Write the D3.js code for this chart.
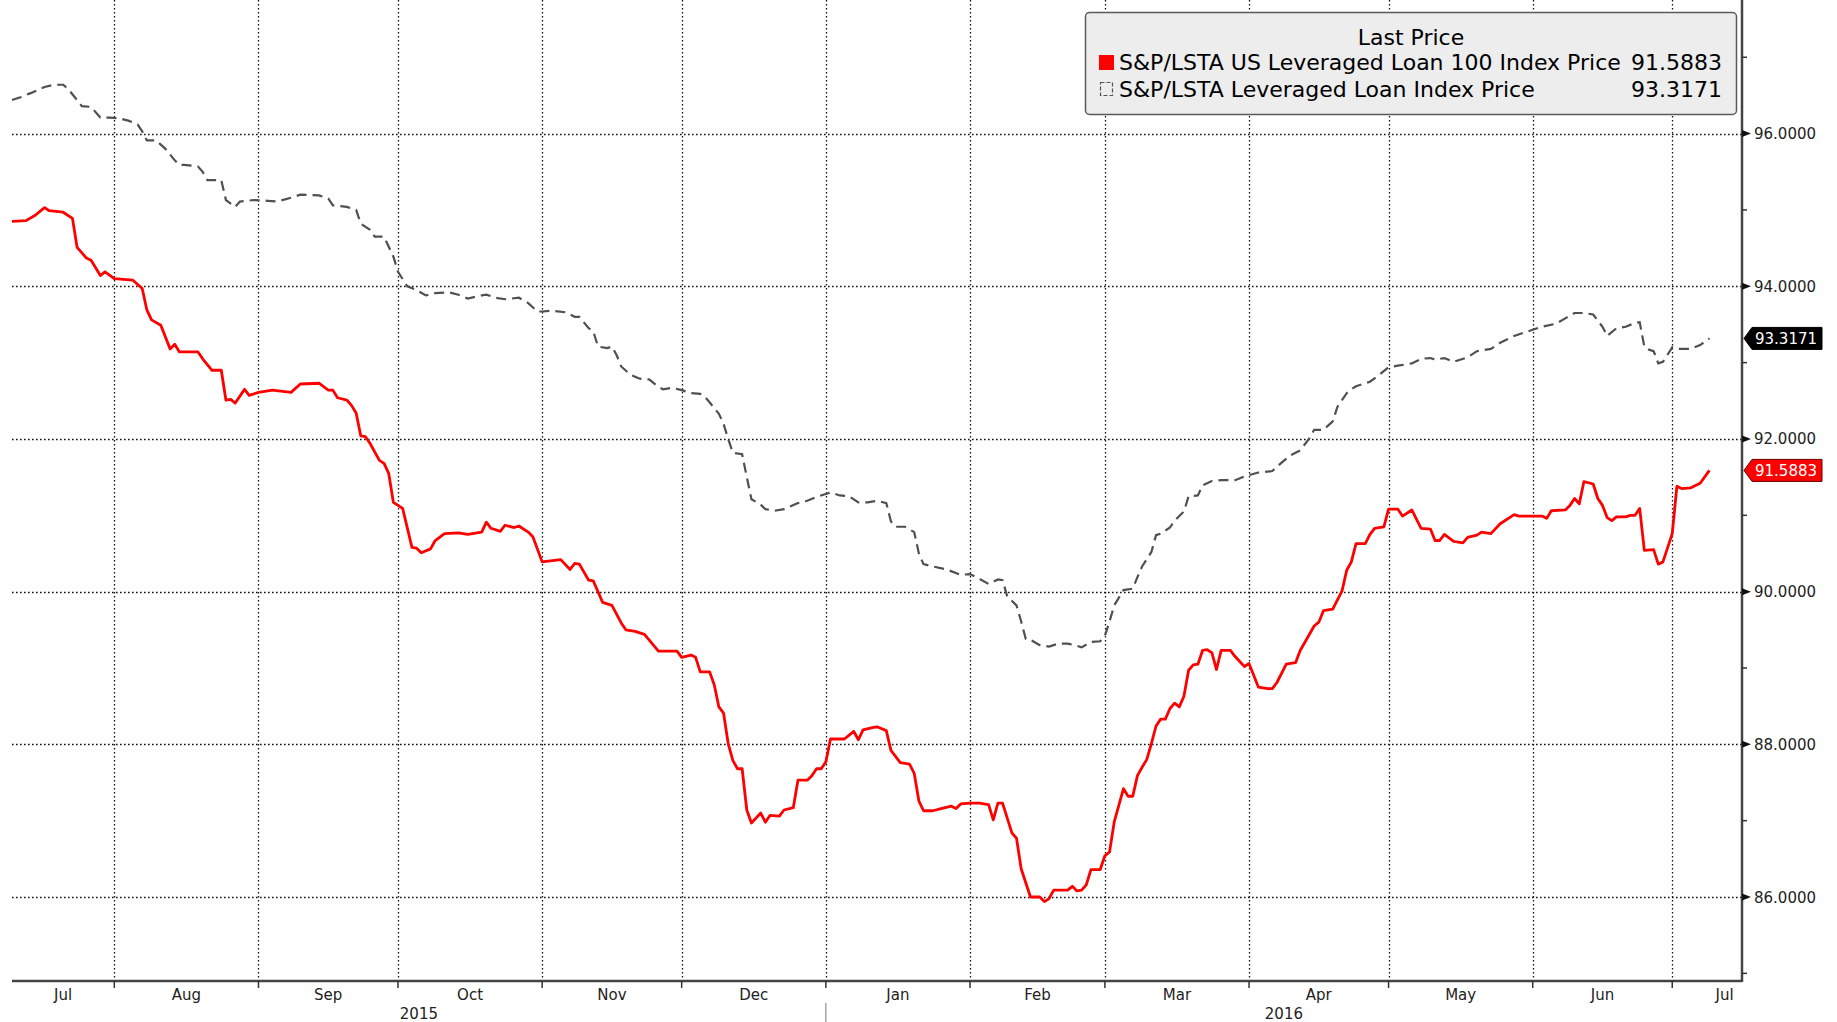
<!DOCTYPE html>
<html>
<head>
<meta charset="utf-8">
<script src="https://cdn.jsdelivr.net/npm/d3@7"></script>
<style>
body { margin: 0; background: #fff; }
svg { display: block; font-family: "DejaVu Sans", Verdana, sans-serif; }
</style>
</head>
<body>
<div id="chart"></div>
<script>
// values, one entry per point (roughly every 1-3 days)
var loan100Dates = [
"2015-07-10","2015-07-13","2015-07-15","2015-07-17","2015-07-18","2015-07-21","2015-07-23","2015-07-24","2015-07-26","2015-07-27","2015-07-29","2015-07-30",
"2015-08-01","2015-08-05","2015-08-07","2015-08-08","2015-08-09","2015-08-11","2015-08-13","2015-08-14","2015-08-15","2015-08-19","2015-08-20","2015-08-22","2015-08-24","2015-08-25","2015-08-26","2015-08-27","2015-08-29","2015-08-30",
"2015-09-01","2015-09-04","2015-09-08","2015-09-10","2015-09-14","2015-09-16","2015-09-17","2015-09-18","2015-09-20","2015-09-21","2015-09-22","2015-09-23","2015-09-24","2015-09-25","2015-09-27","2015-09-28","2015-09-29","2015-09-30",
"2015-10-02","2015-10-04","2015-10-05","2015-10-06","2015-10-08","2015-10-09","2015-10-11","2015-10-14","2015-10-16","2015-10-19","2015-10-20","2015-10-21","2015-10-23","2015-10-24","2015-10-26","2015-10-27","2015-10-29","2015-10-30",
"2015-11-01","2015-11-05","2015-11-07","2015-11-08","2015-11-09","2015-11-11","2015-11-12","2015-11-14","2015-11-16","2015-11-18","2015-11-19","2015-11-21","2015-11-23","2015-11-26","2015-11-30",
"2015-12-01","2015-12-03","2015-12-04","2015-12-05","2015-12-07","2015-12-08","2015-12-09","2015-12-10","2015-12-11","2015-12-12","2015-12-13","2015-12-14","2015-12-15","2015-12-16","2015-12-18","2015-12-19","2015-12-20","2015-12-22","2015-12-23","2015-12-25","2015-12-26","2015-12-28","2015-12-29","2015-12-30","2015-12-31",
"2016-01-01","2016-01-02","2016-01-05","2016-01-07","2016-01-08","2016-01-09","2016-01-11","2016-01-12","2016-01-14","2016-01-15","2016-01-17","2016-01-19","2016-01-20","2016-01-21","2016-01-22","2016-01-24","2016-01-26","2016-01-28","2016-01-29","2016-01-30",
"2016-02-01","2016-02-03","2016-02-05","2016-02-06","2016-02-07","2016-02-08","2016-02-10","2016-02-11","2016-02-12","2016-02-14","2016-02-16","2016-02-17","2016-02-18","2016-02-19","2016-02-22","2016-02-23","2016-02-24","2016-02-25","2016-02-26","2016-02-27","2016-02-29",
"2016-03-01","2016-03-02","2016-03-03","2016-03-05","2016-03-06","2016-03-07","2016-03-08","2016-03-09","2016-03-10","2016-03-11","2016-03-12","2016-03-13","2016-03-14","2016-03-15","2016-03-16","2016-03-17","2016-03-18","2016-03-19","2016-03-20","2016-03-21","2016-03-22","2016-03-23","2016-03-24","2016-03-25","2016-03-26","2016-03-28","2016-03-29","2016-03-31",
"2016-04-01","2016-04-03","2016-04-05","2016-04-06","2016-04-07","2016-04-09","2016-04-11","2016-04-12","2016-04-15","2016-04-16","2016-04-17","2016-04-19","2016-04-21","2016-04-22","2016-04-23","2016-04-24","2016-04-26","2016-04-27","2016-04-28","2016-04-30",
"2016-05-01","2016-05-03","2016-05-04","2016-05-06","2016-05-08","2016-05-10","2016-05-11","2016-05-12","2016-05-13","2016-05-15","2016-05-17","2016-05-18","2016-05-20","2016-05-21","2016-05-23","2016-05-25","2016-05-28","2016-05-29",
"2016-06-03","2016-06-04","2016-06-05","2016-06-08","2016-06-09","2016-06-10","2016-06-11","2016-06-12","2016-06-14","2016-06-15","2016-06-16","2016-06-17","2016-06-18","2016-06-19","2016-06-21","2016-06-22","2016-06-23","2016-06-24","2016-06-25","2016-06-27","2016-06-28","2016-06-29",
"2016-07-01","2016-07-02","2016-07-03","2016-07-05","2016-07-07","2016-07-09"
];
var loan100Values = [
94.85,94.86,94.93,95.03,94.99,94.97,94.89,94.51,94.37,94.34,94.14,94.19,
94.10,94.08,93.97,93.69,93.56,93.49,93.18,93.24,93.14,93.14,93.05,92.90,92.90,92.51,92.52,92.47,92.65,92.57,
92.61,92.64,92.61,92.72,92.73,92.64,92.64,92.54,92.51,92.44,92.34,92.04,92.03,91.94,91.72,91.68,91.55,91.17,
91.09,90.58,90.57,90.51,90.56,90.67,90.76,90.77,90.75,90.78,90.91,90.83,90.79,90.87,90.84,90.86,90.78,90.72,
90.39,90.42,90.29,90.37,90.36,90.15,90.14,89.86,89.82,89.59,89.50,89.48,89.44,89.22,89.22,
89.14,89.17,89.14,88.95,88.95,88.78,88.49,88.41,88.01,87.79,87.68,87.68,87.14,86.97,87.10,86.98,87.07,87.06,87.14,87.17,87.53,87.53,87.59,87.68,87.68,
87.77,88.07,88.07,88.17,88.06,88.19,88.22,88.23,88.18,87.92,87.76,87.74,87.62,87.26,87.13,87.13,87.16,87.19,87.16,87.22,
87.23,87.23,87.21,87.01,87.23,87.23,86.84,86.77,86.37,86.00,86.00,85.94,85.98,86.09,86.09,86.14,86.08,86.09,86.16,86.36,86.36,
86.54,86.59,86.98,87.42,87.32,87.32,87.59,87.70,87.80,88.01,88.24,88.33,88.33,88.47,88.54,88.49,88.63,88.97,89.04,89.05,89.23,89.24,89.20,88.98,89.23,89.23,89.15,89.02,
89.06,88.75,88.73,88.73,88.81,89.05,89.07,89.23,89.55,89.60,89.75,89.77,90.01,90.28,90.39,90.63,90.63,90.75,90.83,90.85,
91.08,91.08,90.99,91.07,90.83,90.82,90.67,90.67,90.75,90.66,90.64,90.71,90.74,90.78,90.76,90.89,91.01,90.99,
90.99,90.96,91.06,91.07,91.13,91.22,91.15,91.44,91.41,91.22,91.13,90.97,90.93,90.98,90.98,91.00,91.00,91.09,90.54,90.55,90.36,90.39,
90.76,91.38,91.35,91.36,91.42,91.5883
];

var loanIdxDates = [
"2015-07-10","2015-07-12","2015-07-14","2015-07-17","2015-07-19","2015-07-21","2015-07-22","2015-07-24","2015-07-25","2015-07-27","2015-07-29","2015-07-31",
"2015-08-02","2015-08-04","2015-08-06","2015-08-07","2015-08-08","2015-08-10","2015-08-12","2015-08-14","2015-08-15","2015-08-16","2015-08-19","2015-08-20","2015-08-21","2015-08-24","2015-08-25","2015-08-27","2015-08-28","2015-08-31",
"2015-09-03","2015-09-05","2015-09-08","2015-09-10","2015-09-14","2015-09-16","2015-09-17","2015-09-20","2015-09-22","2015-09-23","2015-09-25","2015-09-26","2015-09-28","2015-09-30",
"2015-10-01","2015-10-03","2015-10-05","2015-10-07","2015-10-09","2015-10-12","2015-10-14","2015-10-16","2015-10-19","2015-10-20","2015-10-22","2015-10-24","2015-10-27","2015-10-29","2015-10-31",
"2015-11-01","2015-11-03","2015-11-06","2015-11-08","2015-11-09","2015-11-11","2015-11-12","2015-11-13","2015-11-15","2015-11-16","2015-11-17","2015-11-18","2015-11-20","2015-11-22","2015-11-24","2015-11-26","2015-11-27","2015-11-29",
"2015-12-01","2015-12-03","2015-12-05","2015-12-06","2015-12-07","2015-12-09","2015-12-10","2015-12-11","2015-12-12","2015-12-14","2015-12-15","2015-12-16","2015-12-18","2015-12-19","2015-12-21","2015-12-23","2015-12-26","2015-12-28","2015-12-30",
"2016-01-01","2016-01-02","2016-01-04","2016-01-06","2016-01-08","2016-01-10","2016-01-12","2016-01-14","2016-01-15","2016-01-16","2016-01-18","2016-01-20","2016-01-21","2016-01-22","2016-01-24","2016-01-27","2016-01-30",
"2016-02-01","2016-02-03","2016-02-05","2016-02-07","2016-02-08","2016-02-09","2016-02-11","2016-02-12","2016-02-13","2016-02-14","2016-02-16","2016-02-18","2016-02-20","2016-02-22","2016-02-24","2016-02-25","2016-02-27","2016-02-29",
"2016-03-01","2016-03-02","2016-03-03","2016-03-05","2016-03-07","2016-03-08","2016-03-09","2016-03-11","2016-03-12","2016-03-13","2016-03-15","2016-03-16","2016-03-18","2016-03-19","2016-03-21","2016-03-22","2016-03-24","2016-03-26","2016-03-29","2016-03-31",
"2016-04-03","2016-04-06","2016-04-08","2016-04-10","2016-04-12","2016-04-14","2016-04-15","2016-04-17","2016-04-19","2016-04-20","2016-04-22","2016-04-23","2016-04-24","2016-04-27","2016-04-29",
"2016-05-01","2016-05-03","2016-05-06","2016-05-08","2016-05-10","2016-05-11","2016-05-13","2016-05-15","2016-05-18","2016-05-20","2016-05-23","2016-05-25","2016-05-28","2016-05-30",
"2016-06-01","2016-06-03","2016-06-06","2016-06-08","2016-06-10","2016-06-12","2016-06-14","2016-06-16","2016-06-17","2016-06-19","2016-06-21","2016-06-23","2016-06-24","2016-06-25","2016-06-26","2016-06-27","2016-06-28","2016-06-29",
"2016-07-01","2016-07-02","2016-07-05","2016-07-07","2016-07-09"
];
var loanIdxValues = [
96.44,96.48,96.53,96.61,96.64,96.64,96.59,96.44,96.36,96.35,96.21,96.21,
96.20,96.17,96.12,96.03,95.91,95.91,95.80,95.65,95.59,95.59,95.57,95.50,95.39,95.39,95.13,95.04,95.11,95.13,
95.12,95.11,95.16,95.20,95.19,95.15,95.06,95.04,95.00,94.82,94.74,94.65,94.65,94.39,
94.19,94.00,93.95,93.88,93.91,93.92,93.89,93.84,93.88,93.89,93.85,93.83,93.85,93.78,93.67,
93.67,93.68,93.66,93.60,93.60,93.45,93.41,93.21,93.19,93.21,93.10,92.95,92.84,92.79,92.78,92.68,92.65,92.67,
92.64,92.60,92.59,92.55,92.48,92.33,92.20,92.00,91.82,91.80,91.50,91.21,91.14,91.08,91.06,91.08,91.16,91.19,91.24,
91.28,91.30,91.26,91.25,91.17,91.17,91.19,91.16,90.92,90.85,90.85,90.78,90.50,90.36,90.33,90.29,90.22,
90.23,90.17,90.10,90.16,90.15,89.94,89.82,89.61,89.38,89.37,89.30,89.28,89.32,89.32,89.29,89.27,89.34,89.35,
89.42,89.61,89.82,90.02,90.04,90.19,90.33,90.52,90.74,90.76,90.84,90.93,91.05,91.25,91.26,91.39,91.45,91.46,91.46,91.51,
91.56,91.58,91.69,91.79,91.85,92.01,92.12,92.12,92.23,92.42,92.60,92.65,92.69,92.75,92.84,
92.94,92.96,92.99,93.05,93.06,93.04,93.06,93.01,93.07,93.15,93.18,93.26,93.35,93.39,
93.43,93.47,93.51,93.58,93.65,93.65,93.63,93.47,93.35,93.45,93.47,93.52,93.53,93.21,93.17,93.15,92.99,93.01,
93.20,93.18,93.18,93.23,93.3171
];

var seriesNames = ["S&P/LSTA US Leveraged Loan 100 Index Price", "S&P/LSTA Leveraged Loan Index Price"];
var lastLabels = ["91.5883", "93.3171"];
var legendTitle = "Last Price";
var yTickValues = [86, 88, 90, 92, 94, 96];
var yMinorValues = [85, 87, 89, 91, 93, 95, 97];
var yearLabels = ["2015", "2016"];

function drawChart(contId) {
    var w = 1837;
    var h = 1022;
    var left = 12, right = 1742, top = 0, bottom = 981; // plot box, axis sits on the right like bloomberg

    var svg = d3.select(contId)
        .append("svg")
        .attr("width", w)
        .attr("height", h);

    var parse = d3.timeParse("%Y-%m-%d");
    var red = loan100Dates.map((d, i) => ({ date: parse(d), value: loan100Values[i] }));
    var gray = loanIdxDates.map((d, i) => ({ date: parse(d), value: loanIdxValues[i] }));

    var x = d3.scaleTime()
        .domain([new Date(2015, 6, 10), new Date(2016, 6, 16)])
        .range([left, right]);
    var y = d3.scaleLinear()
        .domain([84.9, 97.75])
        .range([bottom, top]);

    // dotted grid
    var monthStarts = d3.timeMonth.range(new Date(2015, 7, 1), new Date(2016, 6, 2));
    var grid = svg.append("g")
        .attr("stroke", "#111")
        .attr("stroke-width", 1.3)
        .attr("stroke-dasharray", "1.6,2.4");
    grid.selectAll(".vg")
        .data(monthStarts)
        .enter()
        .append("line")
        .attr("x1", d => Math.round(x(d)) + 0.5)
        .attr("x2", d => Math.round(x(d)) + 0.5)
        .attr("y1", top)
        .attr("y2", bottom);
    grid.selectAll(".hg")
        .data(yTickValues)
        .enter()
        .append("line")
        .attr("x1", left)
        .attr("x2", right)
        .attr("y1", d => Math.round(y(d)) + 0.5)
        .attr("y2", d => Math.round(y(d)) + 0.5);

    // the two series
    var line = d3.line()
        .x(d => x(d.date))
        .y(d => y(d.value));

    svg.append("path")
        .datum(gray)
        .attr("fill", "none")
        .attr("stroke", "#505050")
        .attr("stroke-width", 2.2)
        .attr("stroke-dasharray", "10,6")
        .attr("d", line);

    svg.append("path")
        .datum(red)
        .attr("fill", "none")
        .attr("stroke", "#ff0000")
        .attr("stroke-width", 2.8)
        .attr("stroke-linejoin", "round")
        .attr("d", line);

    // x axis line + month ticks
    svg.append("line")
        .attr("x1", left).attr("x2", right)
        .attr("y1", bottom).attr("y2", bottom)
        .attr("stroke", "#444")
        .attr("stroke-width", 2.5);
    svg.selectAll(".mt")
        .data(monthStarts)
        .enter()
        .append("line")
        .attr("x1", d => x(d)).attr("x2", d => x(d))
        .attr("y1", bottom).attr("y2", bottom + 7)
        .attr("stroke", "#333")
        .attr("stroke-width", 1.5);

    // month labels centred on the visible part of each month (last one may run a bit past the axis)
    var d0 = x.domain()[0], d1 = x.domain()[1];
    var labelMaxX = right + 35;
    var months = d3.timeMonth.range(new Date(2015, 6, 1), new Date(2016, 6, 2));
    var fmt = d3.timeFormat("%b");
    svg.selectAll(".ml")
        .data(months)
        .enter()
        .append("text")
        .attr("x", d => {
            var s = d < d0 ? d0 : d;
            var xe = Math.min(x(d3.timeMonth.offset(d, 1)), labelMaxX);
            return (x(s) + xe) / 2;
        })
        .attr("y", 1000)
        .attr("text-anchor", "middle")
        .style("font-size", "15px")
        .style("fill", "#222")
        .text(d => fmt(d));

    // years
    svg.selectAll(".yl")
        .data(yearLabels)
        .enter()
        .append("text")
        .attr("x", d => {
            var s = new Date(+d, 0, 1), e = new Date(+d + 1, 0, 1);
            if (s < d0) s = d0;
            if (e > d1) e = d1;
            return (x(s) + x(e)) / 2;
        })
        .attr("y", 1019)
        .attr("text-anchor", "middle")
        .style("font-size", "15px")
        .style("fill", "#222")
        .text(d => d);
    svg.append("line")
        .attr("x1", x(new Date(2016, 0, 1))).attr("x2", x(new Date(2016, 0, 1)))
        .attr("y1", 1003).attr("y2", 1022)
        .attr("stroke", "#777")
        .attr("stroke-width", 1);

    // right axis
    svg.append("line")
        .attr("x1", right).attr("x2", right)
        .attr("y1", top).attr("y2", bottom + 1)
        .attr("stroke", "#444")
        .attr("stroke-width", 2.5);
    svg.selectAll(".minor")
        .data(yMinorValues)
        .enter()
        .append("line")
        .attr("x1", right).attr("x2", right + 5)
        .attr("y1", d => y(d)).attr("y2", d => y(d))
        .attr("stroke", "#333")
        .attr("stroke-width", 1.5);
    svg.selectAll(".arrow")
        .data(yTickValues)
        .enter()
        .append("path")
        .attr("d", d => "M" + right + "," + (y(d) - 3.5) + "L" + (right + 9) + "," + y(d) + "L" + right + "," + (y(d) + 3.5) + "Z")
        .attr("fill", "#111");
    svg.selectAll(".yt")
        .data(yTickValues)
        .enter()
        .append("text")
        .attr("x", right + 12)
        .attr("y", d => y(d) + 5.5)
        .style("font-size", "15px")
        .style("fill", "#222")
        .text(d => d.toFixed(4));

    // last value tags on the axis
    var tags = [
        { v: gray[gray.length - 1].value, label: lastLabels[1], fill: "#000", stroke: "#000" },
        { v: red[red.length - 1].value, label: lastLabels[0], fill: "#ff0000", stroke: "#600" }
    ];
    tags.forEach(t => {
        var cy = y(t.v);
        svg.append("path")
            .attr("d", "M" + (right + 2) + "," + cy + "L" + (right + 10) + "," + (cy - 11) + "L" + (right + 80) + "," + (cy - 11) +
                "L" + (right + 80) + "," + (cy + 11) + "L" + (right + 10) + "," + (cy + 11) + "Z")
            .attr("fill", t.fill)
            .attr("stroke", t.stroke)
            .attr("stroke-width", 1);
        svg.append("text")
            .attr("x", right + 13)
            .attr("y", cy + 5.5)
            .style("font-size", "15px")
            .style("fill", "#fff")
            .text(t.label);
    });

    // legend box (opaque, covers the grid)
    var lg = svg.append("g");
    lg.append("rect")
        .attr("x", 1085.5).attr("y", 12.5)
        .attr("width", 651).attr("height", 102)
        .attr("rx", 4).attr("ry", 4)
        .attr("fill", "#ededed")
        .attr("stroke", "#5a5a5a")
        .attr("stroke-width", 1.5);
    lg.append("text")
        .attr("x", 1411).attr("y", 45)
        .attr("text-anchor", "middle")
        .style("font-size", "22px")
        .text(legendTitle);
    lg.append("rect")
        .attr("x", 1099).attr("y", 55)
        .attr("width", 15).attr("height", 15)
        .attr("fill", "#ff0000");
    lg.append("rect")
        .attr("x", 1100.5).attr("y", 82.5)
        .attr("width", 12).attr("height", 13)
        .attr("fill", "none")
        .attr("stroke", "#555")
        .attr("stroke-width", 1.2)
        .attr("stroke-dasharray", "4,2");
    var rows = [70, 97];
    seriesNames.forEach((name, i) => {
        lg.append("text")
            .attr("x", 1119).attr("y", rows[i])
            .style("font-size", "22px")
            .text(name);
        lg.append("text")
            .attr("x", 1722).attr("y", rows[i])
            .attr("text-anchor", "end")
            .style("font-size", "22px")
            .text(lastLabels[i]);
    });
}

drawChart("#chart");
</script>
</body>
</html>
